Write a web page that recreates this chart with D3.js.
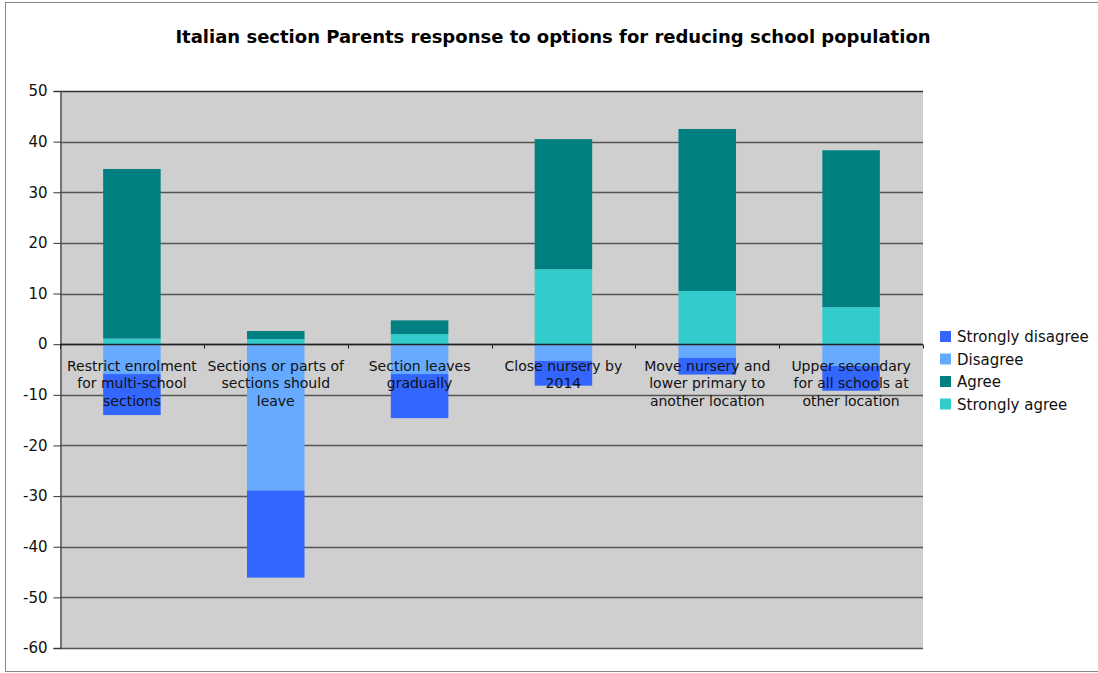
<!DOCTYPE html>
<html><head><meta charset="utf-8">
<script src="https://cdn.jsdelivr.net/npm/d3@7"></script>
<style>body{margin:0;background:#fff;}svg{display:block;font-family:"DejaVu Sans",Verdana,sans-serif;}</style>
</head><body><svg id="c" width="1098" height="673"></svg>
<script>
const categories = [
  ["Restrict enrolment","for multi-school","sections"],
  ["Sections or parts of","sections should","leave"],
  ["Section leaves","gradually"],
  ["Close nursery by","2014"],
  ["Move nursery and","lower primary to","another location"],
  ["Upper secondary","for all schools at","other location"]
];
const stronglyDisagree = [-8.1, -17.2, -8.7, -4.9, -3.3, -4.9];
const disagree = [-5.9, -28.9, -5.9, -3.3, -2.7, -4.3];
const agree = [33.5, 1.6, 2.7, 25.7, 32.0, 31.0];
const stronglyAgree = [1.1, 1.0, 2.0, 14.8, 10.5, 7.3];
const yTicks = [50,40,30,20,10,0,-10,-20,-30,-40,-50,-60];
const seriesNames = ["Strongly disagree","Disagree","Agree","Strongly agree"];
const colors = {"Strongly disagree":"#3366FF","Disagree":"#66AAFF","Agree":"#008080","Strongly agree":"#33CCCC"};

const svg = d3.select("#c");
const L=60, R=923, T=91, B=648;
// outer frame
svg.append("rect").attr("x",5.5).attr("y",2.5).attr("width",1100).attr("height",669).attr("fill","#fff").attr("stroke","#888").attr("stroke-width",1);

const x = d3.scaleBand().domain(d3.range(categories.length)).range([L,R]).paddingInner(0.6).paddingOuter(0.3);
const y = d3.scaleLinear().domain([-60,50]).range([B,T]);

svg.append("rect").attr("x",L).attr("y",T).attr("width",R-L).attr("height",B-T).attr("fill","#CFCFCF");
// gridlines
svg.append("g").selectAll("line").data(yTicks).join("line")
  .attr("x1",L).attr("x2",R).attr("y1",d=>Math.round(y(d))+0.5).attr("y2",d=>Math.round(y(d))+0.5)
  .attr("stroke",d=>d===50?"#333":"#555").attr("stroke-width",1.3);

// stacks
const stacks = [];
categories.forEach((c,i)=>{
  let pos=0, neg=0;
  const sa=stronglyAgree[i]; stacks.push({i,s:"Strongly agree",y0:pos,y1:pos+sa}); pos+=sa;
  const a=agree[i]; stacks.push({i,s:"Agree",y0:pos,y1:pos+a}); pos+=a;
  const d=disagree[i]; stacks.push({i,s:"Disagree",y0:neg,y1:neg+d}); neg+=d;
  const sd=stronglyDisagree[i]; stacks.push({i,s:"Strongly disagree",y0:neg,y1:neg+sd}); neg+=sd;
});
svg.append("g").selectAll("rect").data(stacks).join("rect")
  .attr("x",d=>x(d.i)).attr("width",x.bandwidth())
  .attr("y",d=>y(Math.max(d.y0,d.y1))).attr("height",d=>Math.abs(y(d.y0)-y(d.y1)))
  .attr("fill",d=>colors[d.s]);

// y axis
const ya = svg.append("g").attr("transform",`translate(${L+0.5},0)`)
  .call(d3.axisLeft(y).tickValues(yTicks).tickFormat(d=>String(d)).tickSize(7).tickPadding(6));
ya.select(".domain").attr("stroke","#555").attr("stroke-width",1.5);
ya.selectAll(".tick line").attr("stroke","#333");
ya.selectAll("text").attr("font-size",15).attr("fill","#111").attr("font-family","'DejaVu Sans',Verdana,sans-serif");

// zero axis
const z = Math.round(y(0))+0.5;
svg.append("line").attr("x1",L).attr("x2",R).attr("y1",z).attr("y2",z).attr("stroke","#222").attr("stroke-width",1.3);
const step = x.step();
svg.append("g").selectAll("line").data(d3.range(categories.length+1)).join("line")
  .attr("x1",d=>Math.round(L+d*step)+0.5).attr("x2",d=>Math.round(L+d*step)+0.5)
  .attr("y1",z).attr("y2",z+4).attr("stroke","#222");

// category labels
const lab = svg.append("g").selectAll("text").data(categories).join("text")
  .attr("x",(d,i)=>x(i)+x.bandwidth()/2).attr("y",z+26)
  .attr("text-anchor","middle").attr("font-size",14).attr("fill","#111");
lab.each(function(d){
  const t=d3.select(this);
  d.forEach((line,k)=>t.append("tspan").attr("x",t.attr("x")).attr("dy",k?17.5:0).text(line));
});

// title
svg.append("text").attr("x",553).attr("y",43).attr("text-anchor","middle")
  .attr("font-size",18).attr("font-weight","bold").attr("fill","#000")
  .text("Italian section Parents response to options for reducing school population");

// legend
const lg = svg.append("g").attr("transform","translate(940,331)");
seriesNames.forEach((s,k)=>{
  lg.append("rect").attr("x",0).attr("y",k*22.5).attr("width",11).attr("height",11).attr("fill",colors[s]);
  lg.append("text").attr("x",17).attr("y",k*22.5+11).attr("font-size",15).attr("fill","#111").text(s);
});
</script></body></html>
